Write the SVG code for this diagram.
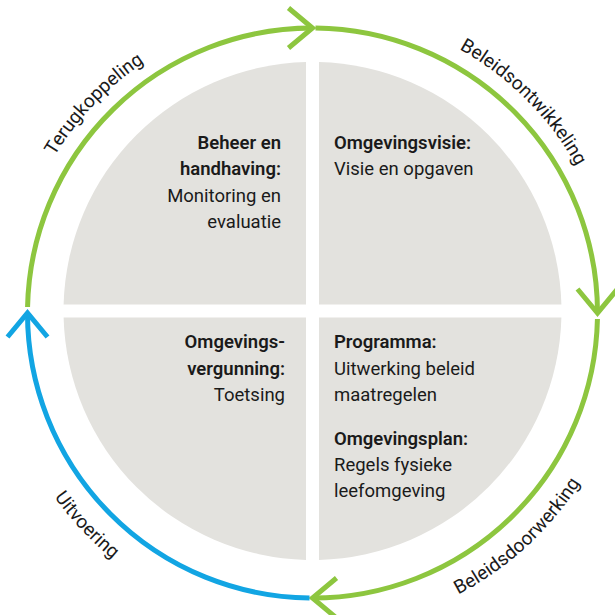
<svg xmlns="http://www.w3.org/2000/svg" width="615" height="615" viewBox="0 0 615 615">
<style>
.q{fill:#e3e2de}
.t{font-family:Roboto,"Liberation Sans",sans-serif;font-size:18.5px;fill:#1a1a1a}
.b{font-weight:600}
.r{text-anchor:end}
.lbl{font-family:Roboto,"Liberation Sans",sans-serif;font-size:19px;fill:#1a1a1a;text-anchor:middle}
.g{fill:none;stroke:#8dc63f;stroke-width:5}
.bl{fill:none;stroke:#12a5e3;stroke-width:5}
</style>
<defs>
<marker id="ag" markerUnits="userSpaceOnUse" markerWidth="60" markerHeight="60" refX="0" refY="0" orient="auto" overflow="visible">
<path d="M-24,-20 L0,0 L-24,20" fill="none" stroke="#8dc63f" stroke-width="5"/>
</marker>
<marker id="ab" markerUnits="userSpaceOnUse" markerWidth="60" markerHeight="60" refX="0" refY="0" orient="auto" overflow="visible">
<path d="M-24,-20 L0,0 L-24,20" fill="none" stroke="#12a5e3" stroke-width="5"/>
</marker>
<path id="topArc" d="M10.5 313 A302 302 0 0 1 614.5 313"/>
<path id="botArc" d="M-4.5 313 A317 317 0 0 0 629.5 313"/>
</defs>

<g id="q-beheer">
<path class="q" d="M306 304.5 L63.6 304.5 A249 249 0 0 1 306 62.1 Z"/>
<text class="t b r" x="281" y="149">Beheer en</text>
<text class="t b r" x="281" y="175">handhaving:</text>
<text class="t r" x="281" y="202">Monitoring en</text>
<text class="t r" x="281" y="228">evaluatie</text>
</g>
<g id="q-visie">
<path class="q" d="M319 304.5 L319 62.1 A249 249 0 0 1 561.4 304.5 Z"/>
<text class="t b" x="334" y="149">Omgevingsvisie:</text>
<text class="t" x="334" y="175">Visie en opgaven</text>
</g>
<g id="q-vergunning">
<path class="q" d="M306 317.5 L306 559.9 A249 249 0 0 1 63.6 317.5 Z"/>
<text class="t b r" x="285" y="348">Omgevings-</text>
<text class="t b r" x="285" y="375">vergunning:</text>
<text class="t r" x="285" y="401">Toetsing</text>
</g>
<g id="q-programma">
<path class="q" d="M319 317.5 L561.4 317.5 A249 249 0 0 1 319 559.9 Z"/>
<text class="t b" x="334" y="348">Programma:</text>
<text class="t" x="334" y="375">Uitwerking beleid</text>
<text class="t" x="334" y="401">maatregelen</text>
<text class="t b" x="334" y="445">Omgevingsplan:</text>
<text class="t" x="334" y="471">Regels fysieke</text>
<text class="t" x="334" y="497">leefomgeving</text>
</g>

<g id="connectors">
<path class="g" d="M27.56 307.03 A285 285 0 0 1 312.5 28" marker-end="url(#ag)"/>
<path class="g" d="M315.48 28.02 A285 285 0 0 1 597.5 313" marker-end="url(#ag)"/>
<path class="g" d="M597.44 318.97 A285 285 0 0 1 312.5 598" marker-end="url(#ag)"/>
<path class="bl" d="M309.52 597.98 A285 285 0 0 1 27.5 313" marker-end="url(#ab)"/>
</g>

<g id="labels">
<text class="lbl"><textPath href="#topArc" startOffset="24.3%">Terugkoppeling</textPath></text>
<text class="lbl"><textPath href="#topArc" startOffset="75%">Beleidsontwikkeling</textPath></text>
<text class="lbl"><textPath href="#botArc" startOffset="24%">Uitvoering</textPath></text>
<text class="lbl"><textPath href="#botArc" startOffset="73.6%">Beleidsdoorwerking</textPath></text>
</g>
</svg>
